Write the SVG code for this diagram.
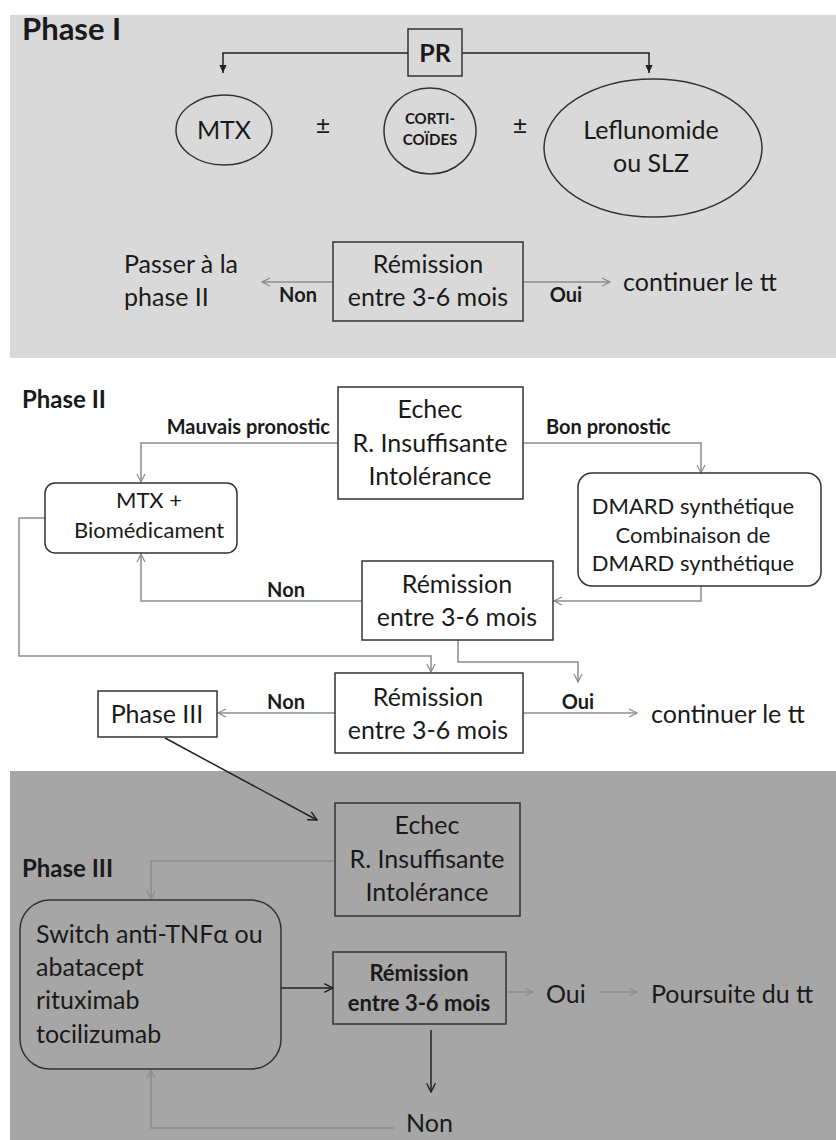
<svg xmlns="http://www.w3.org/2000/svg" width="836" height="1140" viewBox="0 0 836 1140">
<defs>
<marker id="ga" viewBox="0 0 10 10" refX="9" refY="5" markerWidth="10" markerHeight="10" markerUnits="userSpaceOnUse" orient="auto"><path d="M1,1 L9,5 L1,9" fill="none" stroke="#8c8c8c" stroke-width="1.2"/></marker>
<marker id="ba" viewBox="0 0 10 10" refX="9" refY="5" markerWidth="9" markerHeight="9" markerUnits="userSpaceOnUse" orient="auto"><path d="M0,1 L9,5 L0,9 Z" fill="#222"/></marker>
<marker id="bo" viewBox="0 0 10 10" refX="9" refY="5" markerWidth="11" markerHeight="11" markerUnits="userSpaceOnUse" orient="auto"><path d="M1,1 L9,5 L1,9" fill="none" stroke="#222" stroke-width="1.3"/></marker>
</defs>
<style>
text{font-family:Lato,"Liberation Sans",sans-serif;fill:#1a1a1a}
.t{font-size:25px}
.m{font-size:22px}
.b{font-weight:bold}
.lb{font-size:20px;font-weight:bold}
.box{fill:none;stroke:#333;stroke-width:1.5}
.g{fill:none;stroke:#8c8c8c;stroke-width:1.5}
.k{fill:none;stroke:#222;stroke-width:1.5}
</style>
<rect x="0" y="0" width="836" height="1140" fill="#ffffff"/>
<rect x="10" y="15" width="826" height="343" fill="#d9d9d9"/>
<rect x="10" y="771" width="826" height="369" fill="#a6a6a6"/>

<g id="titles">
<text x="22" y="40" font-size="31" class="b">Phase I</text>
<text x="22" y="408" font-size="24" class="b">Phase II</text>
<text x="22" y="877" font-size="24" class="b">Phase III</text>
</g>

<g id="connectors">
<polyline class="k" points="408,53 223,53 223,73" marker-end="url(#ba)"/>
<polyline class="k" points="462,53 649,53 649,73" marker-end="url(#ba)"/>
<line class="g" x1="333" y1="282" x2="262" y2="282" marker-end="url(#ga)"/>
<line class="g" x1="523" y1="282" x2="610" y2="282" marker-end="url(#ga)"/>
<polyline class="g" points="338,443 141,443 141,482" marker-end="url(#ga)"/>
<polyline class="g" points="523,443 701,443 701,473" marker-end="url(#ga)"/>
<polyline class="g" points="701,586 701,601 554,601" marker-end="url(#ga)"/>
<polyline class="g" points="362,601 141,601 141,554" marker-end="url(#ga)"/>
<polyline class="g" points="45,518 19,518 19,656 431,656 431,672" marker-end="url(#ga)"/>
<polyline class="g" points="458,640 458,662 578,662 578,682" marker-end="url(#ga)"/>
<line class="g" x1="335" y1="713" x2="218" y2="713" marker-end="url(#ga)"/>
<line class="g" x1="523" y1="713" x2="637" y2="713" marker-end="url(#ga)"/>
<line class="k" x1="165" y1="738" x2="317" y2="820" marker-end="url(#bo)"/>
<polyline class="g" points="335,861 151,861 151,899" marker-end="url(#ga)"/>
<line class="k" x1="281" y1="988" x2="333" y2="988" marker-end="url(#bo)" stroke-width="2"/>
<line class="g" x1="506" y1="992" x2="533" y2="992" marker-end="url(#ga)"/>
<line class="g" x1="600" y1="992" x2="637" y2="992" marker-end="url(#ga)"/>
<line class="k" x1="431" y1="1030" x2="431" y2="1092" marker-end="url(#bo)"/>
<polyline class="g" points="394,1128 151,1128 151,1070" marker-end="url(#ga)"/>
</g>

<g id="pr">
<rect class="box" x="408" y="29" width="54" height="47"/>
<text x="435" y="62" font-size="25" class="b" text-anchor="middle">PR</text>
</g>
<g id="mtx">
<ellipse class="box" cx="224" cy="130" rx="48" ry="35"/>
<text x="224" y="139" class="t" text-anchor="middle">MTX</text>
</g>
<text x="323" y="134" class="t" text-anchor="middle">±</text>
<g id="corti">
<ellipse class="box" cx="430" cy="131" rx="46" ry="43"/>
<text x="430" y="124" font-size="15" class="b" text-anchor="middle">CORTI-</text>
<text x="430" y="145" font-size="15" class="b" text-anchor="middle">COÏDES</text>
</g>
<text x="520" y="134" class="t" text-anchor="middle">±</text>
<g id="lef">
<ellipse class="box" cx="653" cy="148" rx="109" ry="69"/>
<text x="651" y="139" class="t" text-anchor="middle">Leflunomide</text>
<text x="651" y="172" class="t" text-anchor="middle">ou SLZ</text>
</g>
<g id="rem1">
<rect class="box" x="333" y="242" width="190" height="79"/>
<text x="428" y="273" class="t" text-anchor="middle">Rémission</text>
<text x="428" y="306" class="t" text-anchor="middle">entre 3-6 mois</text>
</g>
<g id="passer">
<text x="124" y="273" class="t">Passer à la</text>
<text x="124" y="306" class="t">phase II</text>
</g>
<text x="298" y="302" class="lb" text-anchor="middle">Non</text>
<text x="566" y="302" class="lb" text-anchor="middle">Oui</text>
<g id="cont1"><text x="623" y="291" class="t">continuer le tt</text></g>

<g id="echec2">
<rect class="box" x="338" y="387" width="185" height="112"/>
<text x="430" y="418" class="t" text-anchor="middle">Echec</text>
<text x="430" y="452" class="t" text-anchor="middle">R. Insuffisante</text>
<text x="430" y="485" class="t" text-anchor="middle">Intolérance</text>
</g>
<text x="330" y="434" class="lb" text-anchor="end">Mauvais pronostic</text>
<text x="546" y="434" class="lb">Bon pronostic</text>
<g id="mtxbio">
<rect class="box" x="45" y="483" width="192" height="70" rx="10"/>
<text x="149" y="508" class="m" text-anchor="middle">MTX +</text>
<text x="149" y="538" class="m" text-anchor="middle">Biomédicament</text>
</g>
<g id="dmard">
<rect class="box" x="578" y="473" width="243" height="113" rx="14"/>
<text x="693" y="514" class="m" text-anchor="middle">DMARD synthétique</text>
<text x="693" y="543" class="m" text-anchor="middle">Combinaison de</text>
<text x="693" y="571" class="m" text-anchor="middle">DMARD synthétique</text>
</g>
<g id="rem2">
<rect class="box" x="362" y="561" width="191" height="79"/>
<text x="457" y="593" class="t" text-anchor="middle">Rémission</text>
<text x="457" y="626" class="t" text-anchor="middle">entre 3-6 mois</text>
</g>
<text x="286" y="597" class="lb" text-anchor="middle">Non</text>
<g id="rem3">
<rect class="box" x="335" y="673" width="188" height="80"/>
<text x="428" y="706" class="t" text-anchor="middle">Rémission</text>
<text x="428" y="739" class="t" text-anchor="middle">entre 3-6 mois</text>
</g>
<g id="phase3box">
<rect class="box" x="98" y="691" width="119" height="46"/>
<text x="157" y="723" class="t" text-anchor="middle">Phase III</text>
</g>
<text x="286" y="709" class="lb" text-anchor="middle">Non</text>
<text x="578" y="709" class="lb" text-anchor="middle">Oui</text>
<g id="cont2"><text x="651" y="723" class="t">continuer le tt</text></g>

<g id="echec3">
<rect class="box" x="335" y="803" width="185" height="113"/>
<text x="427" y="834" class="t" text-anchor="middle">Echec</text>
<text x="427" y="868" class="t" text-anchor="middle">R. Insuffisante</text>
<text x="427" y="901" class="t" text-anchor="middle">Intolérance</text>
</g>
<g id="switch">
<rect class="box" x="20" y="900" width="261" height="169" rx="30"/>
<text x="36" y="943" class="t">Switch anti-TNFα ou</text>
<text x="36" y="976" class="t">abatacept</text>
<text x="36" y="1009" class="t">rituximab</text>
<text x="36" y="1043" class="t">tocilizumab</text>
</g>
<g id="rem4">
<rect class="box" x="333" y="952" width="173" height="72"/>
<text x="419" y="981" font-size="22" class="b" text-anchor="middle">Rémission</text>
<text x="419" y="1011" font-size="22" class="b" text-anchor="middle">entre 3-6 mois</text>
</g>
<g id="oui3"><text x="546" y="1003" class="t">Oui</text></g>
<g id="pours"><text x="651" y="1003" class="t">Poursuite du tt</text></g>
<g id="non3"><text x="406" y="1132" class="t">Non</text></g>
</svg>
